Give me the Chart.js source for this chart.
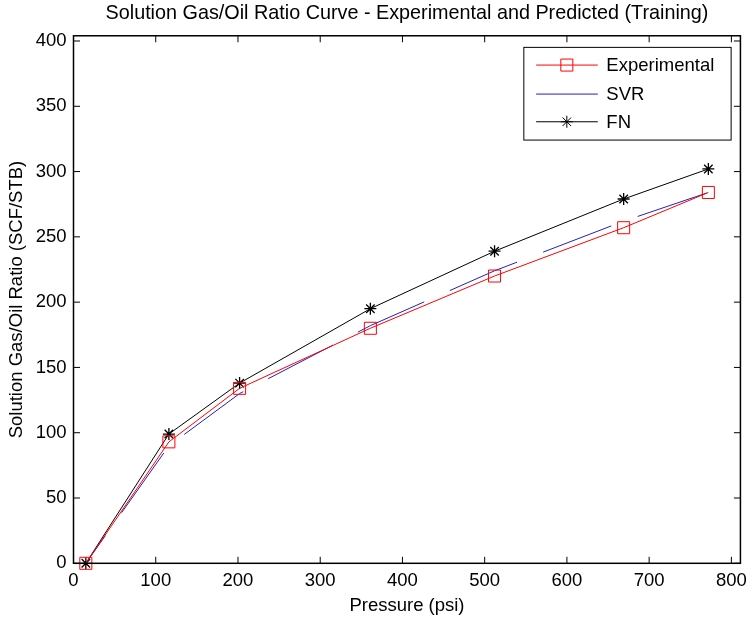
<!DOCTYPE html>
<html>
<head>
<meta charset="utf-8">
<script src="https://cdn.jsdelivr.net/npm/chart.js@4/dist/chart.umd.min.js"></script>
<style>
html, body { margin: 0; padding: 0; background: #fff; }
canvas { display: block; }
</style>
</head>
<body>
<canvas id="rsChart" width="754" height="621"></canvas>
<script>
const pressure = [15, 116, 202, 361, 512, 669, 772]
const experimental = [0, 93, 134, 180, 220, 257, 284]
const svr = [0, 90, 130, 182, 224, 262, 284]
const fn = [0, 99, 138, 195, 239, 279, 302]
const seriesLabels = ['Experimental', 'SVR', 'FN']
const xTicks = [0, 100, 200, 300, 400, 500, 600, 700, 800]
const yTicks = [0, 50, 100, 150, 200, 250, 300, 350, 400]

const rsChart = document.getElementById('rsChart')
const fontFamily = '"Liberation Sans", Arial, Helvetica, sans-serif'
const red = '#ff0000'
const blue = '#2020c0'
const black = '#000000'

Chart.defaults.font.family = fontFamily
Chart.defaults.font.size = 18.5
Chart.defaults.color = black

const toPoints = ys => pressure.map((p, i) => ({ x: p, y: ys[i] }))

// matlab style box with inward ticks on all four sides
const axesBox = {
	id: 'axesBox',
	afterDraw(chart) {
		const { ctx, chartArea: a, scales: { x, y } } = chart
		const tl = 6.5
		ctx.save()
		ctx.strokeStyle = black
		ctx.lineWidth = 1
		ctx.beginPath()
		xTicks.forEach(v => {
			const px = x.getPixelForValue(v)
			ctx.moveTo(px, a.bottom)
			ctx.lineTo(px, a.bottom - tl)
			ctx.moveTo(px, a.top)
			ctx.lineTo(px, a.top + tl)
		})
		yTicks.forEach(v => {
			const py = y.getPixelForValue(v)
			ctx.moveTo(a.left, py)
			ctx.lineTo(a.left + tl, py)
			ctx.moveTo(a.right, py)
			ctx.lineTo(a.right - tl, py)
		})
		ctx.stroke()
		ctx.lineWidth = 1.5
		ctx.strokeRect(a.left, a.top, a.right - a.left, a.bottom - a.top)
		ctx.restore()
	},
}

function drawMarker(ctx, style, cx, cy, color) {
	ctx.strokeStyle = color
	ctx.lineWidth = 1
	ctx.setLineDash([])
	ctx.beginPath()
	if (style === 'rect') {
		ctx.rect(cx - 6, cy - 6, 12, 12)
	} else if (style === 'star') {
		const r = 6
		const d = r * Math.SQRT1_2
		ctx.moveTo(cx - r, cy); ctx.lineTo(cx + r, cy)
		ctx.moveTo(cx, cy - r); ctx.lineTo(cx, cy + r)
		ctx.moveTo(cx - d, cy - d); ctx.lineTo(cx + d, cy + d)
		ctx.moveTo(cx - d, cy + d); ctx.lineTo(cx + d, cy - d)
	}
	ctx.stroke()
}

// legend box in the upper right corner of the axes
const boxLegend = {
	id: 'boxLegend',
	afterDraw(chart) {
		const { ctx, chartArea: a } = chart
		const left = a.right - 216.6
		const right = a.right - 9.3
		const top = a.top + 11.6
		const bottom = a.top + 104.3
		const rows = [29.3, 58.3, 86]
		ctx.save()
		ctx.fillStyle = '#fff'
		ctx.fillRect(left, top, right - left, bottom - top)
		ctx.strokeStyle = black
		ctx.lineWidth = 1
		ctx.strokeRect(left, top, right - left, bottom - top)
		chart.data.datasets.forEach((ds, i) => {
			const yy = a.top + rows[i]
			ctx.strokeStyle = ds.borderColor
			ctx.lineWidth = ds.borderWidth
			ctx.setLineDash(ds.borderDash || [])
			ctx.beginPath()
			ctx.moveTo(left + 12.3, yy)
			ctx.lineTo(left + 74, yy)
			ctx.stroke()
			if (ds.pointRadius > 0) drawMarker(ctx, ds.pointStyle, left + 43, yy, ds.pointBorderColor)
			ctx.fillStyle = black
			ctx.font = `18.5px ${fontFamily}`
			ctx.textAlign = 'left'
			ctx.textBaseline = 'middle'
			ctx.fillText(ds.label, left + 82.5, yy + 1)
		})
		ctx.restore()
	},
}

new Chart(rsChart, {
	type: 'line',
	data: {
		datasets: [
			{
				label: seriesLabels[0],
				data: toPoints(experimental),
				borderColor: red,
				borderWidth: 1,
				pointStyle: 'rect',
				pointRadius: 8.5,
				pointBorderColor: red,
				pointBackgroundColor: 'rgba(0,0,0,0)',
				pointBorderWidth: 1,
				clip: false,
			},
			{
				label: seriesLabels[1],
				data: toPoints(svr),
				borderColor: blue,
				borderWidth: 1,
				borderDash: [73, 28],
				borderDashOffset: 39,
				pointRadius: 0,
				clip: false,
			},
			{
				label: seriesLabels[2],
				data: toPoints(fn),
				borderColor: black,
				borderWidth: 1,
				pointStyle: 'star',
				pointRadius: 6,
				pointBorderColor: black,
				pointBorderWidth: 1.3,
				clip: false,
			},
		],
	},
	options: {
		responsive: false,
		animation: false,
		devicePixelRatio: 1,
		layout: { padding: { left: 0, right: 10, top: 0, bottom: 0 } },
		plugins: {
			legend: { display: false },
			tooltip: { enabled: false },
			title: {
				display: true,
				fullSize: false,
				text: 'Solution Gas/Oil Ratio Curve - Experimental and Predicted (Training)',
				font: { size: 19.8, weight: 'normal', lineHeight: 1.15 },
				padding: { top: 2, bottom: 11 },
				color: black,
			},
		},
		scales: {
			x: {
				type: 'linear',
				min: 0,
				max: 811,
				afterBuildTicks: s => { s.ticks = xTicks.map(v => ({ value: v })) },
				afterFit: s => { s.height = 57.7 },
				grid: { display: false, drawTicks: false },
				border: { display: false },
				ticks: { padding: 7, maxRotation: 0, autoSkip: false },
				title: { display: true, text: 'Pressure (psi)', padding: { top: 0, bottom: 4 }, font: { lineHeight: 1.2 } },
			},
			y: {
				type: 'linear',
				min: 0,
				max: 404,
				afterBuildTicks: s => { s.ticks = yTicks.map(v => ({ value: v })) },
				afterFit: s => { s.width = 73.5 },
				grid: { display: false, drawTicks: false },
				border: { display: false },
				ticks: { padding: 7, autoSkip: false },
				title: { display: true, text: 'Solution Gas/Oil Ratio (SCF/STB)', padding: { top: 6, bottom: 0 }, font: { lineHeight: 1.2 } },
			},
		},
	},
	plugins: [axesBox, boxLegend],
})
</script>
</body>
</html>
